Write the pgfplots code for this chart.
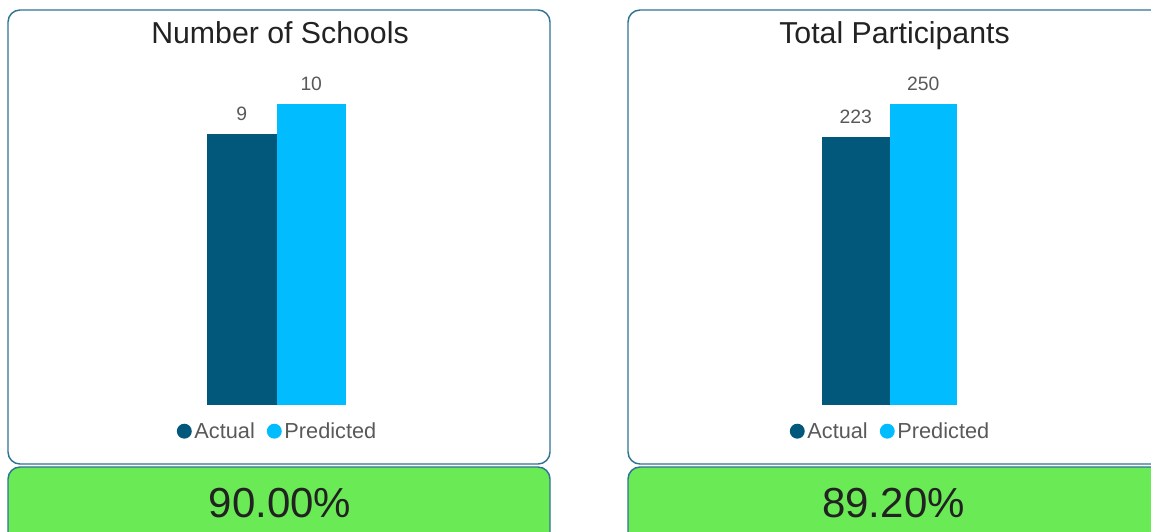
\documentclass[border=0pt]{standalone}
\usepackage{pgfplots}
\pgfplotsset{compat=1.18}
\usepackage{fontspec}
\setmainfont{Liberation Sans}
\definecolor{actual}{HTML}{01587B}
\definecolor{pred}{HTML}{01BCFF}
\definecolor{frame}{HTML}{2F7395}
\definecolor{okgreen}{HTML}{6AEB55}
\definecolor{lbl}{HTML}{595959}
\definecolor{ttl}{HTML}{222222}
\pgfplotsset{panel/.style={
  scale only axis, axis lines=none, clip=false,
  anchor=south west, ymin=0, xmin=-0.5, xmax=1.5,
  ybar, bar shift=0pt,
  /pgf/number format/assume math mode=true,
  nodes near coords,
  nodes near coords style={anchor=south, inner sep=0pt, yshift=9.75pt,
    font=\fontsize{14.5}{14.5}\selectfont, text=lbl},
  legend columns=-1,
  legend style={draw=none, fill=none, at={(0.51,-0.087)}, anchor=center,
    font=\fontsize{16.3}{16.3}\selectfont, text=lbl, inner sep=0pt,
    /tikz/every even column/.append style={column sep=7pt}},
}}
\begin{document}
\begin{tikzpicture}
\useasboundingbox (0pt,0pt) rectangle (863.25pt,-398.25pt);
\clip (0pt,0pt) rectangle (863.25pt,-398.25pt);
\begin{scope}[x=0.75pt,y=-0.75pt]
  \draw[frame, line width=1.1pt, rounded corners=9pt] (8,10) rectangle (550,464);
  \draw[frame, line width=1.1pt, fill=okgreen, rounded corners=9pt] (8,467) rectangle (550,550);
  \draw[frame, line width=1.1pt, rounded corners=9pt] (628,10) rectangle (1170,464);
  \draw[frame, line width=1.1pt, fill=okgreen, rounded corners=9pt] (628,467) rectangle (1170,550);
  \node[anchor=base, inner sep=0pt, font=\fontsize{22.7}{22.7}\selectfont, text=ttl] at (280,44) {Number of Schools};
  \node[anchor=base, inner sep=0pt, font=\fontsize{22.7}{22.7}\selectfont, text=ttl] at (894.5,44) {Total Participants};
  \node[anchor=base, inner sep=0pt, font=\fontsize{31.5}{31.5}\selectfont, text=ttl] at (280,517) {90.00\%};
  \node[anchor=base, inner sep=0pt, font=\fontsize{31.5}{31.5}\selectfont, text=ttl] at (893.5,517) {89.20\%};
\end{scope}

\begin{axis}[panel, at={(155.25pt,-303.75pt)}, width=104.25pt, height=225.75pt, ymax=10]
  \addplot[fill=actual, draw=none, bar width=52.125pt,
    legend image code/.code={\fill[actual] (0pt,0pt) circle (5.6pt);}] coordinates {(0,9)};
  \addplot[fill=pred, draw=none, bar width=52.125pt,
    legend image code/.code={\fill[pred] (0pt,0pt) circle (5.6pt);}] coordinates {(1,10)};
  \legend{Actual, Predicted}
\end{axis}

\begin{axis}[panel, at={(616.5pt,-303.75pt)}, width=101.25pt, height=225.75pt, ymax=250]
  \addplot[fill=actual, draw=none, bar width=50.625pt,
    legend image code/.code={\fill[actual] (0pt,0pt) circle (5.6pt);}] coordinates {(0,223)};
  \addplot[fill=pred, draw=none, bar width=50.625pt,
    legend image code/.code={\fill[pred] (0pt,0pt) circle (5.6pt);}] coordinates {(1,250)};
  \legend{Actual, Predicted}
\end{axis}
\end{tikzpicture}
\end{document}
